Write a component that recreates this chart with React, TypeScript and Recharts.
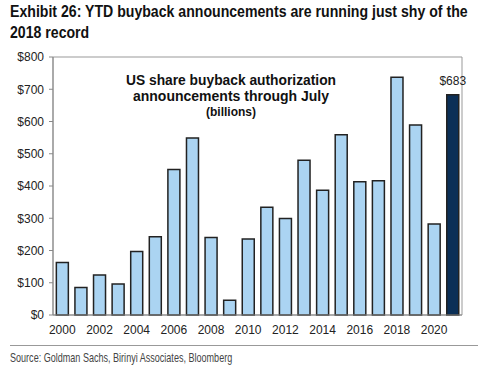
import React from 'react';
import { BarChart, Bar, Cell, XAxis, YAxis, ReferenceArea, LabelList } from 'recharts';

const years = ['2000', '2001', '2002', '2003', '2004', '2005', '2006', '2007', '2008', '2009', '2010',
  '2011', '2012', '2013', '2014', '2015', '2016', '2017', '2018', '2019', '2020', '2021'];
const buybacks = [163, 85, 124, 96, 197, 243, 451, 549, 240, 46, 236, 334, 299, 480, 387, 559, 413, 416, 737, 589, 282, 683];
const yTicks = [0, 100, 200, 300, 400, 500, 600, 700, 800];
const labelledYear = '2021';

const data = years.map((year, i) => ({
  year,
  value: buybacks[i],
  label: year === labelledYear ? `$${buybacks[i]}` : null,
}));
const edgeTicks = years.map((_, i) => i).concat(years.length);

const sans = '"Liberation Sans", Arial, sans-serif';

const TopLabel = (props: any) => {
  const { x, y, width, value } = props;
  if (value == null) return null;
  return (
    <text x={x + width / 2} y={y - 10} textAnchor="middle" fontSize={12} fill="#222" fontFamily={sans}>
      {value}
    </text>
  );
};

// condensed look: squeeze a normal sans horizontally
const squeeze = (sx: number): React.CSSProperties => ({
  transform: `scaleX(${sx})`, transformOrigin: 'left top', whiteSpace: 'nowrap',
});

function App() {
  return (
    <div style={{ position: 'absolute', left: 0, top: 0, width: 480, height: 376, background: '#fff', overflow: 'hidden' }}>
      <div style={{ position: 'absolute', left: 10, top: 1, fontFamily: sans, fontWeight: 'bold', fontSize: 17, lineHeight: '21px', color: '#111', ...squeeze(0.83) }}>
        Exhibit 26: YTD buyback announcements are running just shy of the<br />2018 record
      </div>

      <div style={{ position: 'absolute', left: 0, top: 0 }}>
        <BarChart width={480} height={376} data={data} margin={{ top: 57, right: 18, left: 5, bottom: 41 }} barCategoryGap="18%">
          <XAxis xAxisId="edge" type="number" dataKey={() => 0} domain={[0, years.length]} ticks={edgeTicks}
            height={0} axisLine={false} tick={<g />} tickSize={4} tickLine={{ stroke: '#888' }} />
          <XAxis xAxisId="cat" dataKey="year" interval={1} height={20} tickLine={false}
            axisLine={{ stroke: '#888' }} tick={{ fontSize: 12, fill: '#222', fontFamily: sans }} tickMargin={4} />
          <YAxis domain={[0, 800]} ticks={yTicks} width={48} tickFormatter={(v) => `$${v}`}
            axisLine={{ stroke: '#888' }} tickLine={{ stroke: '#888' }} tickSize={4} tickMargin={5}
            tick={{ fontSize: 12, fill: '#222', fontFamily: sans }} />
          <ReferenceArea xAxisId="cat" y1={0} y2={800} fill="none" stroke="#999" strokeWidth={1} />
          <Bar xAxisId="cat" dataKey="value" stroke="#222" strokeWidth={1.5} isAnimationActive={false}>
            {data.map((d) => (
              <Cell key={d.year} fill={d.year === labelledYear ? '#0b2f57' : '#abd4f2'} />
            ))}
            <LabelList dataKey="label" content={<TopLabel />} />
          </Bar>
        </BarChart>
      </div>

      <div style={{ position: 'absolute', left: 101, width: 260, top: 73, textAlign: 'center', fontFamily: sans, fontWeight: 'bold', color: '#111', fontSize: 14, lineHeight: '15.5px', whiteSpace: 'nowrap' }}>
        <span style={{ fontSize: 13.8 }}>US share buyback authorization</span><br />announcements through July<br />
        <span style={{ fontSize: 12 }}>(billions)</span>
      </div>

      <div style={{ position: 'absolute', left: 10, right: 2, top: 345, height: 1, background: '#999' }} />
      <div style={{ position: 'absolute', left: 10, top: 350, fontFamily: sans, fontSize: 13.5, color: '#444', ...squeeze(0.67) }}>
        Source: Goldman Sachs, Birinyi Associates, Bloomberg
      </div>
    </div>
  );
}

export default App;
